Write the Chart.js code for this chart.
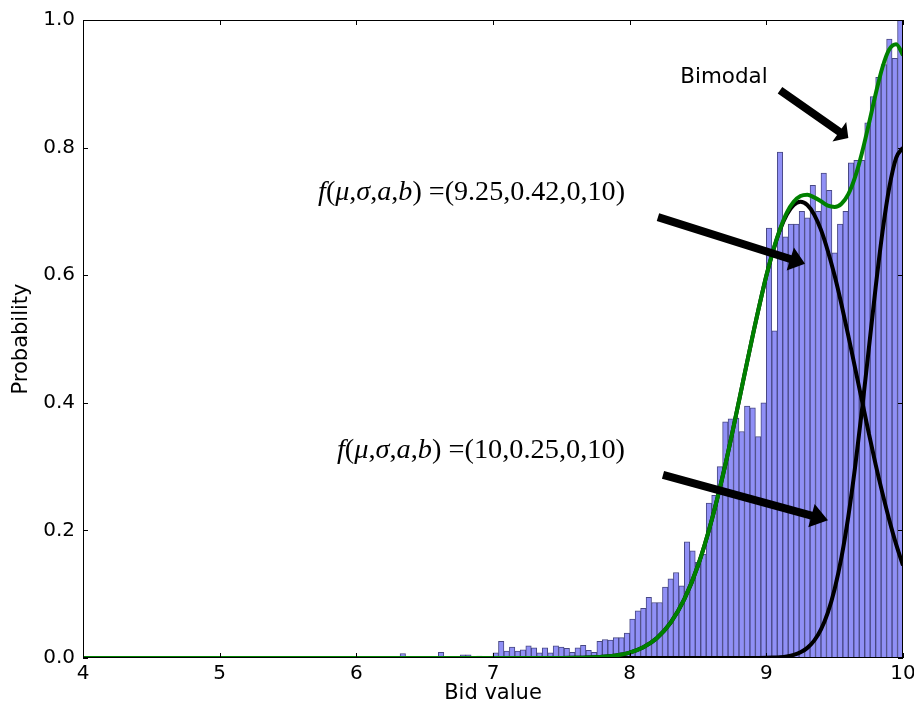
<!DOCTYPE html>
<html lang="en">
<head>
<meta charset="UTF-8">
<title>Bid value histogram</title>
<script src="https://cdn.jsdelivr.net/npm/chart.js"></script>
<style>
  html, body { margin: 0; padding: 0; background: #fff; }
  #wrap { width: 914px; height: 708px; }
</style>
</head>
<body>
<div id="wrap"><canvas id="myChart" width="914" height="708"></canvas></div>
<script>
// histogram bins (left edge of first bin, bin width) and bar heights
const binStart = 6.0;
const binWidth = 0.04;
const binCounts = [
  0, 0, 0, 0, 0, 0, 0, 0, 0.007, 0, 0, 0, 0, 0, 0, 0.009, 0, 0, 0, 0.005, 0.005, 0, 0.003, 0, 0,
  0.008, 0.026, 0.011, 0.017, 0.011, 0.013, 0.019, 0.016, 0.008, 0.016, 0.008, 0.019, 0.017, 0.015, 0.009,
  0.016, 0.020, 0.012, 0.009, 0.026, 0.029, 0.028, 0.032, 0.032, 0.039,
  0.061, 0.074, 0.078, 0.095, 0.087, 0.087, 0.111, 0.124, 0.134, 0.113, 0.182, 0.168, 0.150, 0.163, 0.243,
  0.255, 0.300, 0.370, 0.375, 0.376, 0.355, 0.395, 0.392, 0.347, 0.400,
  0.674, 0.513, 0.793, 0.660, 0.680, 0.680, 0.700, 0.690, 0.741, 0.700, 0.760, 0.733, 0.635, 0.680, 0.700,
  0.776, 0.780, 0.780, 0.839, 0.880, 0.910, 0.930, 0.970, 0.940, 1.000
];

// fitted curves
const curveX = [4, 7.5, 7.6, 7.7, 7.8, 7.9, 8.0, 8.1, 8.2, 8.3, 8.4, 8.5, 8.6, 8.7, 8.8, 8.9,
  9.0, 9.05, 9.1, 9.15, 9.2, 9.25, 9.3, 9.35, 9.4, 9.45, 9.5, 9.55, 9.6, 9.65, 9.7, 9.75, 9.8, 9.85, 9.9, 9.95, 10];
const leftFit = [0, 0.0001, 0.0003, 0.0008, 0.0018, 0.0041, 0.0085, 0.0168, 0.0314, 0.0554, 0.0922, 0.145, 0.216, 0.303, 0.403, 0.505,
  0.599, 0.638, 0.671, 0.695, 0.710, 0.715, 0.710, 0.695, 0.671, 0.638, 0.599, 0.554, 0.505, 0.454, 0.403, 0.352, 0.303, 0.258, 0.216, 0.178, 0.145];
const rightFit = [0, 0, 0, 0, 0, 0, 0, 0, 0, 0, 0, 0, 0, 0, 0, 0,
  0.0003, 0.0006, 0.0012, 0.0025, 0.0048, 0.0089, 0.0159, 0.0272, 0.0449, 0.0711, 0.108, 0.158, 0.222, 0.300, 0.389, 0.485, 0.581, 0.668, 0.738, 0.784, 0.800];
const bimodalFit = [0, 0.0001, 0.0003, 0.0008, 0.0018, 0.0041, 0.0085, 0.0168, 0.0314, 0.0554, 0.0922, 0.145, 0.216, 0.303, 0.403, 0.505,
  0.599, 0.639, 0.672, 0.698, 0.715, 0.724, 0.726, 0.722, 0.716, 0.709, 0.707, 0.712, 0.727, 0.754, 0.792, 0.837, 0.884, 0.926, 0.954, 0.962, 0.945];

const xTicks = [4, 5, 6, 7, 8, 9, 10];
const yTicks = [0, 0.2, 0.4, 0.6, 0.8, 1.0];

function pts(xs, ys) {
  return xs.map((x, i) => ({ x: x, y: ys[i] }));
}

const bars = binCounts.map((v, i) => ({ x: binStart + binWidth * (i + 0.5), y: v }));

// text and arrows, in data coordinates
const notes = [
  { text: [['Bimodal', 'sans']], x0: 8.37, x1: 9.01, y: 0.901 },
  { text: [['f', 'it'], ['(', 'rm'], ['\u03bc', 'it'], [',', 'rm'], ['\u03c3', 'it'], [',', 'rm'], ['a', 'it'], [',', 'rm'], ['b', 'it'], [') =(9.25,0.42,0,10)', 'rm']],
    x0: 5.72, x1: 7.966, y: 0.718 },
  { text: [['f', 'it'], ['(', 'rm'], ['\u03bc', 'it'], [',', 'rm'], ['\u03c3', 'it'], [',', 'rm'], ['a', 'it'], [',', 'rm'], ['b', 'it'], [') =(10,0.25,0,10)', 'rm']],
    x0: 5.858, x1: 7.966, y: 0.313 }
];
const arrows = [
  { from: [9.10, 0.890], to: [9.60, 0.815] },
  { from: [8.207, 0.691], to: [9.283, 0.618] },
  { from: [8.244, 0.287], to: [9.451, 0.216] }
];

function fontFor(style, size) {
  if (style === 'sans') return size + 'px "DejaVu Sans"';
  if (style === 'it') return 'italic ' + size + 'px "Liberation Serif"';
  return size + 'px "Liberation Serif"';
}

function drawArrow(ctx, x1, y1, x2, y2) {
  const dx = x2 - x1, dy = y2 - y1;
  const len = Math.sqrt(dx * dx + dy * dy);
  const ux = dx / len, uy = dy / len;
  const px = -uy, py = ux;
  const w = 4, hw = 12, hl = Math.max(11, len * 0.1);
  const bx = x2 - ux * hl, by = y2 - uy * hl;
  ctx.beginPath();
  ctx.moveTo(x1 + px * w, y1 + py * w);
  ctx.lineTo(bx + px * w, by + py * w);
  ctx.lineTo(bx + px * hw, by + py * hw);
  ctx.lineTo(x2, y2);
  ctx.lineTo(bx - px * hw, by - py * hw);
  ctx.lineTo(bx - px * w, by - py * w);
  ctx.lineTo(x1 - px * w, y1 - py * w);
  ctx.closePath();
  ctx.fillStyle = '#000';
  ctx.fill();
}

const framePlugin = {
  id: 'frame',
  afterDatasetsDraw(chart) {
    const ctx = chart.ctx;
    const a = chart.chartArea;
    const xs = chart.scales.x, ys = chart.scales.y;
    ctx.save();
    ctx.strokeStyle = '#000';
    ctx.lineWidth = 1;
    ctx.strokeRect(a.left + 0.5, a.top + 0.5, a.right - a.left - 1, a.bottom - a.top - 1);
    ctx.beginPath();
    xTicks.forEach(v => {
      const p = Math.round(xs.getPixelForValue(v)) + 0.5;
      ctx.moveTo(p, a.bottom); ctx.lineTo(p, a.bottom - 5);
      ctx.moveTo(p, a.top); ctx.lineTo(p, a.top + 5);
    });
    yTicks.forEach(v => {
      const p = Math.round(ys.getPixelForValue(v)) + 0.5;
      ctx.moveTo(a.left, p); ctx.lineTo(a.left + 5, p);
      ctx.moveTo(a.right, p); ctx.lineTo(a.right - 5, p);
    });
    ctx.stroke();

    arrows.forEach(ar => {
      drawArrow(ctx, xs.getPixelForValue(ar.from[0]), ys.getPixelForValue(ar.from[1]),
        xs.getPixelForValue(ar.to[0]), ys.getPixelForValue(ar.to[1]));
    });

    ctx.fillStyle = '#000';
    ctx.textBaseline = 'alphabetic';
    notes.forEach(n => {
      const left = xs.getPixelForValue(n.x0);
      const target = xs.getPixelForValue(n.x1) - left;
      let total = 0;
      n.text.forEach(s => { ctx.font = fontFor(s[1], 100); total += ctx.measureText(s[0]).width; });
      const size = 100 * target / total;
      let x = left;
      const y = ys.getPixelForValue(n.y);
      n.text.forEach(s => {
        ctx.font = fontFor(s[1], size);
        ctx.fillText(s[0], x, y);
        x += ctx.measureText(s[0]).width;
      });
    });
    ctx.restore();
  }
};

Chart.defaults.font.family = '"DejaVu Sans"';
Chart.defaults.color = '#000';

const config = {
  type: 'bar',
  data: {
    datasets: [
      {
        type: 'line',
        label: 'Bimodal',
        data: pts(curveX, bimodalFit),
        borderColor: '#008000',
        borderWidth: 4,
        pointRadius: 0,
        cubicInterpolationMode: 'monotone',
        clip: 0,
        order: 1
      },
      {
        type: 'line',
        label: 'f(9.25,0.42,0,10)',
        data: pts(curveX, leftFit),
        borderColor: '#000000',
        borderWidth: 4,
        pointRadius: 0,
        cubicInterpolationMode: 'monotone',
        clip: 0,
        order: 2
      },
      {
        type: 'line',
        label: 'f(10,0.25,0,10)',
        data: pts(curveX, rightFit),
        borderColor: '#000000',
        borderWidth: 4,
        pointRadius: 0,
        cubicInterpolationMode: 'monotone',
        clip: 0,
        order: 3
      },
      {
        type: 'bar',
        label: 'Bids',
        data: bars,
        backgroundColor: '#9090f6',
        borderColor: '#484884',
        borderWidth: 1,
        borderSkipped: false,
        barPercentage: 1,
        categoryPercentage: 1,
        grouped: false,
        order: 4
      }
    ]
  },
  options: {
    responsive: false,
    animation: false,
    layout: { padding: { top: 20, right: 11, left: 0, bottom: 0 } },
    plugins: { legend: { display: false }, tooltip: { enabled: false } },
    scales: {
      x: {
        type: 'linear',
        min: 4,
        max: 10,
        offset: false,
        grid: { display: false, drawTicks: false, offset: false },
        border: { display: false },
        ticks: { stepSize: 1, padding: 4, font: { size: 20 }, maxRotation: 0 },
        title: { display: true, text: 'Bid value', font: { size: 21 }, padding: { top: 0, bottom: 2 } },
        afterFit: s => { s.height = 50; s.paddingLeft = 0; s.paddingRight = 0; }
      },
      y: {
        min: 0,
        max: 1,
        grid: { display: false, drawTicks: false },
        border: { display: false },
        ticks: { stepSize: 0.2, padding: 8, font: { size: 20 }, callback: v => v.toFixed(1) },
        title: { display: true, text: 'Probability', font: { size: 21 }, padding: { top: 9, bottom: 0 } },
        afterFit: s => { s.width = 83; s.paddingTop = 0; s.paddingBottom = 0; }
      }
    }
  },
  plugins: [framePlugin]
};

const myChart = new Chart(document.getElementById('myChart'), config);
</script>
</body>
</html>
